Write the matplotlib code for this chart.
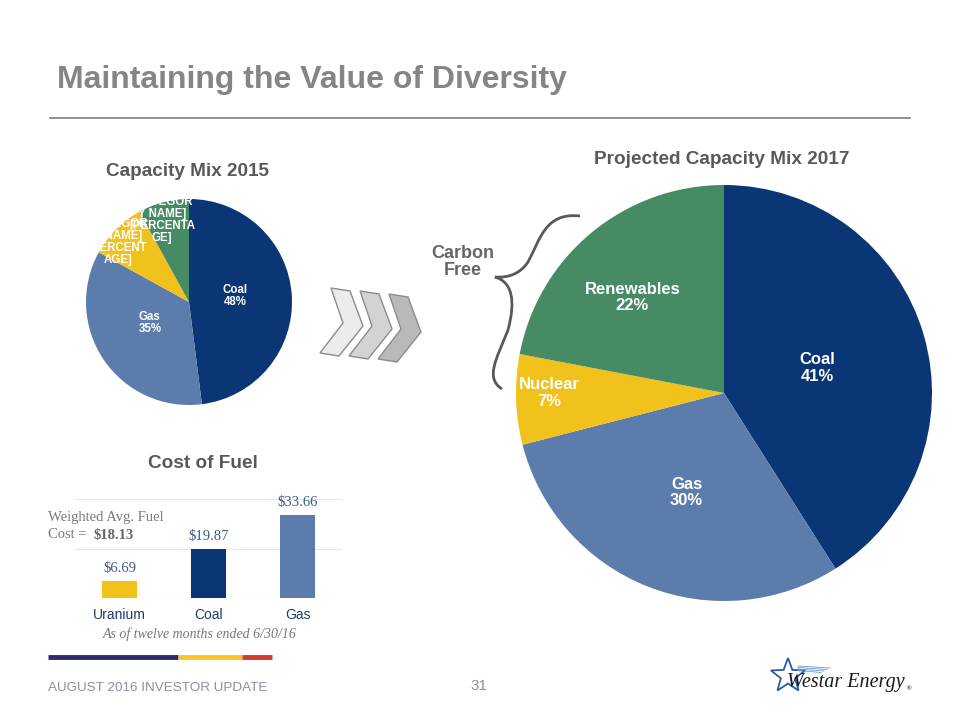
import numpy as np
import matplotlib.pyplot as plt
from matplotlib.patches import Polygon, PathPatch
from matplotlib.path import Path

# data
mix2015_labels = ['Coal\n48%', 'Gas\n35%', '[CATEGOR\nY NAME]\n[PERCENT\nAGE]', '[CATEGOR\nY NAME]\n[PERCENTA\nGE]']
mix2015_values = [48, 35, 9, 8]
mix2017_labels = ['Coal\n41%', 'Gas\n30%', 'Nuclear\n7%', 'Renewables\n22%']
mix2017_values = [41, 30, 7, 22]
fuels = ['Uranium', 'Coal', 'Gas']
fuel_cost = [6.69, 19.87, 33.66]

COAL = '#0b3675'
GAS = '#5c7dab'
NUC = '#f1c21b'
REN = '#478b64'
pie_colors = [COAL, GAS, NUC, REN]

W, H = 960, 720
fig = plt.figure(figsize=(9.6, 7.2), dpi=100)

# background axes in pixel coords for all the slide decoration
bg = fig.add_axes([0, 0, 1, 1])
bg.set_xlim(0, W)
bg.set_ylim(H, 0)
bg.axis('off')


def px_axes(cx, cy, w, h):
    # axes from pixel box (left, top, width, height)
    return fig.add_axes([cx / W, (H - cy - h) / H, w / W, h / H])


# title + rule
bg.text(57, 80, 'Maintaining the Value of Diversity', fontsize=23, fontweight='bold',
        color='#858585', va='center', ha='left', family='Liberation Sans')
bg.plot([50, 910], [118, 118], color='#7f7f7f', lw=1.2)

# section titles
bg.text(187, 171, 'Capacity Mix 2015', fontsize=13.6, fontweight='bold', color='#595959',
        ha='center', va='center', family='Liberation Sans')
bg.text(722, 160, 'Projected Capacity Mix 2017', fontsize=13.7, fontweight='bold', color='#595959',
        ha='center', va='center', family='Liberation Sans')
bg.text(203, 464, 'Cost of Fuel', fontsize=13.7, fontweight='bold', color='#595959',
        ha='center', va='center', family='Liberation Sans')
bg.text(463, 262, 'Carbon\nFree', fontsize=13, fontweight='bold', color='#666666',
        ha='center', va='center', family='Liberation Sans', linespacing=1.05)

# small pie
r1 = 103
ax1 = px_axes(189 - r1, 302 - r1, 2 * r1, 2 * r1)
ax1.pie(mix2015_values, colors=pie_colors, startangle=90, counterclock=False,
        wedgeprops=dict(linewidth=0))
ax1.set_xlim(-1, 1)
ax1.set_ylim(-1, 1)
ax1.set_aspect('equal')
lab1_pos = [(0.45, 0.06), (-0.38, -0.2), (-0.69, 0.58), (-0.26, 0.80)]
for lab, (x, y) in zip(mix2015_labels, lab1_pos):
    ax1.text(x, y, lab, color='white', fontsize=8.3, fontweight='bold', ha='center', va='center',
             family='Liberation Sans', linespacing=1.0, clip_on=False)

# big pie
r2 = 208
ax2 = px_axes(724 - r2, 393 - r2, 2 * r2, 2 * r2)
ax2.pie(mix2017_values, colors=pie_colors, startangle=90, counterclock=False,
        wedgeprops=dict(linewidth=0))
ax2.set_xlim(-1, 1)
ax2.set_ylim(-1, 1)
ax2.set_aspect('equal')
lab2_pos = [(0.45, 0.12), (-0.18, -0.48), (-0.84, 0.0), (-0.44, 0.46)]
for lab, (x, y) in zip(mix2017_labels, lab2_pos):
    ax2.text(x, y, lab, color='white', fontsize=12, fontweight='bold', ha='center', va='center',
             family='Liberation Sans', linespacing=1.1)

# chevrons
chev = np.array([[331, 288], [350, 291], [363, 326], [339, 356], [320, 353], [343, 323]])
for i, (dx, dy, c) in enumerate([(0, 0, '#ececec'), (29, 3, '#d3d3d3'), (58, 6, '#b9b9b9')]):
    bg.add_patch(Polygon(chev + [dx, dy], closed=True, facecolor=c, edgecolor='#8c8c8c', lw=1))

# curly brace
verts = [(580, 216), (545, 212), (540, 240), (528, 262),
         (520, 274), (508, 278), (495, 277),
         (512, 282), (516, 300), (508, 330),
         (496, 360), (485, 378), (502, 389)]
codes = [Path.MOVETO] + [Path.CURVE4] * 12
bg.add_patch(PathPatch(Path(verts, codes), facecolor='none', edgecolor='#595959', lw=2))

# bar chart
ax3 = px_axes(75, 499, 267, 99)
x = np.arange(len(fuels))
ax3.bar(x, fuel_cost, width=0.4, color=[NUC, COAL, GAS], zorder=3)
ax3.set_xlim(-0.5, 2.5)
ax3.set_ylim(0, 40)
ax3.set_yticks([0, 20, 40])
ax3.grid(axis='y', color='#e6e6e6', lw=0.8, zorder=0)
ax3.tick_params(left=False, labelleft=False, bottom=False)
for s in ax3.spines.values():
    s.set_visible(False)
ax3.set_xticks(x)
ax3.set_xticklabels(fuels, fontsize=10, color='#1f3a68', family='Liberation Sans')
for xi, v in zip(x, fuel_cost):
    ax3.text(xi, v + 2.5, f'${v:.2f}', ha='center', va='bottom', fontsize=10.5,
             color='#3b5a85', family='Liberation Serif')
ax3.set_facecolor('none')

bg.text(48, 517, 'Weighted Avg. Fuel', fontsize=10.5, color='#7a7a7a', family='Liberation Serif',
        ha='left', va='center')
bg.text(48, 535, 'Cost = ', fontsize=10.5, color='#7a7a7a', family='Liberation Serif',
        ha='left', va='center')
bg.text(93, 535, '$18.13', fontsize=10.5, color='#666666', fontweight='bold',
        family='Liberation Serif', ha='left', va='center')
bg.text(200, 634, 'As of twelve months ended 6/30/16', fontsize=10, style='italic', color='#777777',
        family='Liberation Serif', ha='center', va='center')

# colour strip
bg.plot([48, 178], [657, 657], color='#2e2b6b', lw=3.5, solid_capstyle='butt')
bg.plot([178, 242], [657, 657], color='#f5c52a', lw=3.5, solid_capstyle='butt')
bg.plot([242, 272], [657, 657], color='#d23a2e', lw=3.5, solid_capstyle='butt')

# footer
bg.text(48, 688, 'AUGUST 2016 INVESTOR UPDATE', fontsize=9.7, color='#8e8ea6',
        family='Liberation Sans', ha='left', va='center')
bg.text(487, 686, '31', fontsize=11, color='#8e8ea6', family='Liberation Sans',
        ha='right', va='center')

# logo: star outline + name
ang = np.deg2rad(90 + np.arange(10) * 36)
rad = np.where(np.arange(10) % 2 == 0, 18, 7.5)
sx = 788 + rad * np.cos(ang)
sy = 676 - rad * np.sin(ang)
bg.add_patch(Polygon(np.column_stack([sx, sy]), closed=True, facecolor='none',
                     edgecolor='#2a5aa8', lw=1.3))
for k in range(4):
    bg.plot([798, 830 - k * 3], [666 + k * 1.5, 668 + k * 1.5], color='#6f95cf', lw=0.6)
bg.text(787, 683, 'Westar Energy', fontsize=14.5, style='italic', color='#1a1a1a',
        family='Liberation Serif', ha='left', va='center')
bg.text(905, 689, '®', fontsize=4.5, color='#1a1a1a', ha='left', va='center')

fig.savefig('out.png', dpi=100, facecolor='white')
